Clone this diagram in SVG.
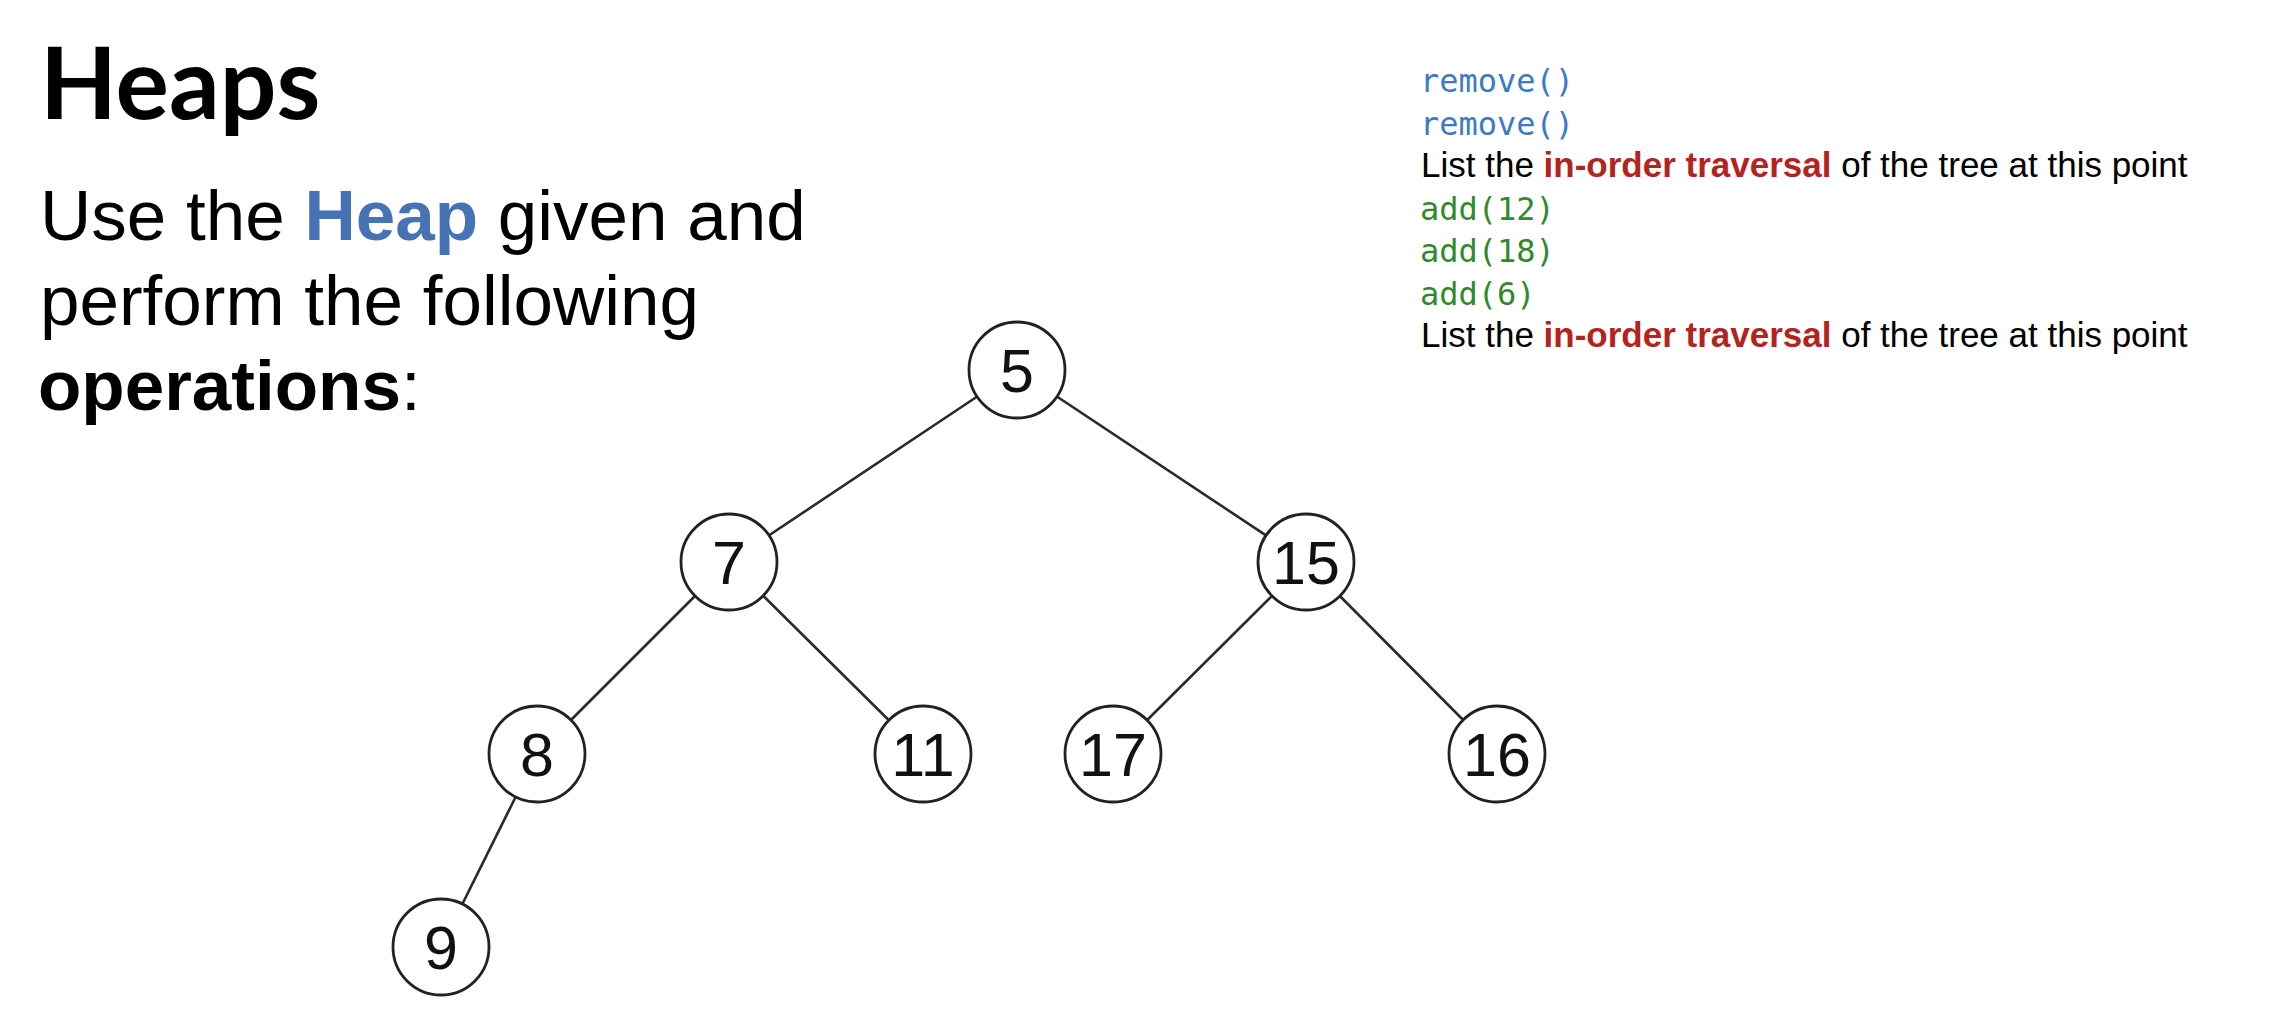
<svg xmlns="http://www.w3.org/2000/svg" width="2278" height="1030" viewBox="0 0 2278 1030">
<style>
.title{font-family:Lato,"Open Sans",sans-serif;font-weight:bold;font-size:100px;fill:#000}
.body{font-family:"Liberation Sans",Arial,sans-serif;font-size:71px;fill:#000}
.mono{font-family:"DejaVu Sans Mono","Liberation Mono",monospace;font-size:32px}
.ops{font-family:"Liberation Sans",Arial,sans-serif;font-size:35px;fill:#000}
.blue{fill:#3B7BC6}
.green{fill:#2F8A2A}
.red{fill:#B3241E;font-weight:bold}
.node circle{fill:#fff;stroke:#222;stroke-width:2.8}
.node text{font-family:"Liberation Sans",Arial,sans-serif;font-size:61px;fill:#111;text-anchor:middle}
.edges line{stroke:#2a2a2a;stroke-width:2.6}
</style>
<rect width="2278" height="1030" fill="#fff"/>
<text class="title" x="40" y="119">Heaps</text>
<text class="body" x="40" y="240">Use the <tspan font-weight="bold" fill="#4573B3">Heap</tspan> given and</text>
<text class="body" x="40" y="325">perform the following</text>
<text class="body" x="38" y="410"><tspan font-weight="bold">operations</tspan>:</text>
<g id="operations">
<text class="mono blue" x="1420" y="92">remove()</text>
<text class="mono blue" x="1420" y="134.5">remove()</text>
<text class="ops" x="1421" y="177">List the <tspan class="red">in-order traversal</tspan> of the tree at this point</text>
<text class="mono green" x="1420" y="219.5">add(12)</text>
<text class="mono green" x="1420" y="262">add(18)</text>
<text class="mono green" x="1420" y="304.5">add(6)</text>
<text class="ops" x="1421" y="347">List the <tspan class="red">in-order traversal</tspan> of the tree at this point</text>
</g>
<g id="connectors" class="edges">
<line x1="1017" y1="370" x2="729" y2="562"/>
<line x1="1017" y1="370" x2="1306" y2="562"/>
<line x1="729" y1="562" x2="537" y2="754"/>
<line x1="729" y1="562" x2="923" y2="754"/>
<line x1="1306" y1="562" x2="1113" y2="754"/>
<line x1="1306" y1="562" x2="1497" y2="754"/>
<line x1="537" y1="754" x2="441" y2="947"/>
</g>
<g id="node-5" class="node"><circle cx="1017" cy="370" r="48"/><text x="1017" y="392">5</text></g>
<g id="node-7" class="node"><circle cx="729" cy="562" r="48"/><text x="729" y="584">7</text></g>
<g id="node-15" class="node"><circle cx="1306" cy="562" r="48"/><text x="1306" y="584">15</text></g>
<g id="node-8" class="node"><circle cx="537" cy="754" r="48"/><text x="537" y="776">8</text></g>
<g id="node-11" class="node"><circle cx="923" cy="754" r="48"/><text x="923" y="776">11</text></g>
<g id="node-17" class="node"><circle cx="1113" cy="754" r="48"/><text x="1113" y="776">17</text></g>
<g id="node-16" class="node"><circle cx="1497" cy="754" r="48"/><text x="1497" y="776">16</text></g>
<g id="node-9" class="node"><circle cx="441" cy="947" r="48"/><text x="441" y="969">9</text></g>
</svg>
